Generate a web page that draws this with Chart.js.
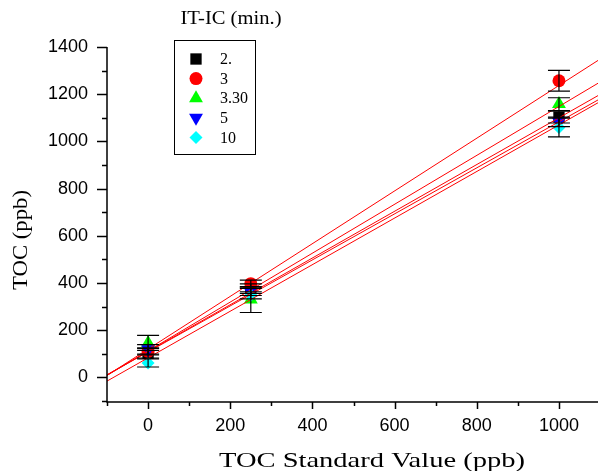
<!DOCTYPE html>
<html>
<head>
<meta charset="UTF-8">
<title>TOC calibration</title>
<script src="https://cdn.jsdelivr.net/npm/chart.js"></script>
<style>
  body { margin: 0; background: #fff; }
  #wrap { width: 598px; height: 471px; }
</style>
</head>
<body>
<div id="wrap"><canvas id="tocChart"></canvas></div>
<script>
// standard concentrations (ppb)
const standards = [0, 250, 1000];

// measured TOC per IT-IC time (ppb) and their error bars
const names = ['2.', '3', '3.30', '5', '10'];
const toc2 = [102, 376, 1103];
const toc3 = [110, 397, 1257];
const toc330 = [146, 330, 1158];
const toc5 = [119, 362, 1083];
const toc10 = [61, 348, 1059];
const err2 = [20, 20, 25];
const err3 = [15, 15, 44];
const err330 = [32, 55, 27];
const err5 = [20, 15, 20];
const err10 = [17, 15, 40];

// linear fit of each series: slope and intercept (ppb)
const fitSlope = [0.99, 1.117, 1.036, 0.975, 0.987];
const fitIntercept = [110, 120, 112, 108, 83];

// axis ticks
const xTicks = [0, 200, 400, 600, 800, 1000];
const yTicks = [0, 200, 400, 600, 800, 1000, 1200, 1400];

const serif = '"Liberation Serif", "Times New Roman", serif';
const sans = '"Liberation Sans", Arial, sans-serif';

const series = [
  { label: names[0], y: toc2, err: err2, color: '#000000', style: 'rect', radius: 8, rotation: 0 },
  { label: names[1], y: toc3, err: err3, color: '#ff0000', style: 'circle', radius: 6.5, rotation: 0 },
  { label: names[2], y: toc330, err: err330, color: '#00ff00', style: 'triangle', radius: 8, rotation: 0 },
  { label: names[3], y: toc5, err: err5, color: '#0000ff', style: 'triangle', radius: 8, rotation: 180 },
  { label: names[4], y: toc10, err: err10, color: '#00ffff', style: 'rectRot', radius: 6.5, rotation: 0 }
];

const X_MIN = -100, X_MAX = 1095;

const datasets = [];
series.forEach((s, i) => {
  datasets.push({
    type: 'scatter',
    label: s.label,
    data: standards.map((x, j) => ({ x, y: s.y[j] })),
    errors: s.err,
    pointStyle: s.style,
    pointRadius: s.radius,
    pointRotation: s.rotation,
    pointBackgroundColor: s.color,
    pointBorderWidth: 0,
    order: 5 - i + 1
  });
});
series.forEach((s, i) => {
  datasets.push({
    type: 'line',
    label: 'fit ' + s.label,
    data: [X_MIN, X_MAX].map(x => ({ x, y: fitIntercept[i] + fitSlope[i] * x })),
    borderColor: '#ff0000',
    borderWidth: 1,
    pointRadius: 0,
    order: 0
  });
});

// vertical error bars with caps
const errorBars = {
  id: 'errorBars',
  afterDatasetsDraw(chart) {
    const { ctx, scales: { y } } = chart;
    ctx.save();
    ctx.strokeStyle = '#000';
    ctx.lineWidth = 1.2;
    chart.data.datasets.forEach((ds, i) => {
      if (!ds.errors) return;
      const meta = chart.getDatasetMeta(i);
      meta.data.forEach((pt, j) => {
        const v = ds.data[j].y, e = ds.errors[j];
        const top = y.getPixelForValue(v + e), bot = y.getPixelForValue(v - e);
        ctx.beginPath();
        ctx.moveTo(pt.x, top); ctx.lineTo(pt.x, bot);
        ctx.moveTo(pt.x - 11, top); ctx.lineTo(pt.x + 11, top);
        ctx.moveTo(pt.x - 11, bot); ctx.lineTo(pt.x + 11, bot);
        ctx.stroke();
      });
    });
    ctx.restore();
  }
};

// text squeezed/stretched horizontally to a given width
function wideText(ctx, text, cx, cy, width) {
  const w = ctx.measureText(text).width;
  ctx.save();
  ctx.translate(cx, cy);
  ctx.scale(width / w, 1);
  ctx.fillText(text, 0, 0);
  ctx.restore();
}

// axis lines, major/minor tick marks, axis titles and legend box
const frame = {
  id: 'frame',
  afterDraw(chart) {
    const { ctx, chartArea: a, scales: { x, y } } = chart;
    ctx.save();
    ctx.strokeStyle = '#000';
    ctx.lineWidth = 1.5;
    ctx.beginPath();
    ctx.moveTo(a.left, a.top); ctx.lineTo(a.left, a.bottom + 1); ctx.lineTo(a.right, a.bottom + 1);
    ctx.stroke();
    ctx.beginPath();
    for (let v = X_MIN; v <= X_MAX; v += 100) {
      const px = Math.round(x.getPixelForValue(v)) + 0.5;
      const len = xTicks.includes(v) ? 7 : 4;
      ctx.moveTo(px, a.bottom + 1); ctx.lineTo(px, a.bottom + 1 + len);
    }
    for (let v = -100; v <= 1400; v += 100) {
      const py = Math.round(y.getPixelForValue(v)) + 0.5;
      const len = yTicks.includes(v) ? 10 : 5;
      ctx.moveTo(a.left, py); ctx.lineTo(a.left - len, py);
    }
    ctx.stroke();

    ctx.fillStyle = '#000';
    ctx.textAlign = 'center';
    ctx.textBaseline = 'middle';
    ctx.font = '21px ' + serif;
    wideText(ctx, 'TOC Standard Value (ppb)', 372, 461, 306);
    ctx.save();
    ctx.translate(21, 240);
    ctx.rotate(-Math.PI / 2);
    wideText(ctx, 'TOC (ppb)', 0, 0, 100);
    ctx.restore();

    // legend
    ctx.font = '18px ' + serif;
    wideText(ctx, 'IT-IC (min.)', 231, 19, 101);
    ctx.lineWidth = 1;
    ctx.strokeRect(174.5, 40.5, 81, 114);
    ctx.textAlign = 'left';
    ctx.font = '16px ' + serif;
    series.forEach((s, i) => {
      const ry = 59 + i * 19.6;
      ctx.fillStyle = s.color;
      Chart.helpers.drawPoint(ctx, {
        pointStyle: s.style, radius: s.radius, rotation: s.rotation, borderWidth: 0
      }, 196, ry);
      ctx.fillStyle = '#000';
      ctx.fillText(s.label, 220, ry + 1);
    });
    ctx.restore();
  }
};

new Chart(document.getElementById('tocChart'), {
  data: { datasets },
  options: {
    responsive: true,
    maintainAspectRatio: false,
    animation: false,
    layout: { autoPadding: false, padding: { top: 47, left: 0, right: 0, bottom: 0 } },
    plugins: { legend: { display: false }, tooltip: { enabled: false } },
    scales: {
      x: {
        type: 'linear',
        min: X_MIN,
        max: X_MAX,
        afterBuildTicks: scale => { scale.ticks = xTicks.map(v => ({ value: v })); },
        afterFit: scale => { scale.height = 70; scale.paddingLeft = 0; scale.paddingRight = 0; },
        grid: { display: false, drawTicks: false },
        border: { display: false },
        ticks: { color: '#000', font: { family: sans, size: 18 }, padding: 14, maxRotation: 0, callback: v => String(v) }
      },
      y: {
        type: 'linear',
        min: -100,
        max: 1400,
        afterBuildTicks: scale => { scale.ticks = yTicks.map(v => ({ value: v })); },
        afterFit: scale => { scale.width = 107; scale.paddingTop = 0; scale.paddingBottom = 0; },
        grid: { display: false, drawTicks: false },
        border: { display: false },
        ticks: { color: '#000', font: { family: sans, size: 18 }, padding: 19, callback: v => String(v) }
      }
    }
  },
  plugins: [errorBars, frame]
});
</script>
</body>
</html>
